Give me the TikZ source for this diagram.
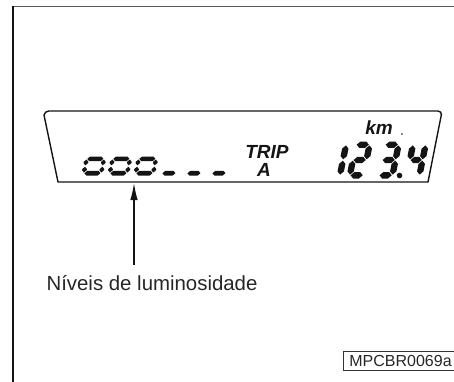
\documentclass[tikz,border=0pt]{standalone}
\usepackage{fontspec}
\setmainfont{Liberation Sans}
\usetikzlibrary{arrows.meta,positioning}
\definecolor{lcdink}{RGB}{20,20,20}
\definecolor{frameedge}{RGB}{90,90,90}
\tikzset{
  lcd/.style={fill=lcdink},
  lcdframe/.style={draw=lcdink, line width=1.4pt, line join=round},
  topline/.style={draw=frameedge, line width=1.6pt},
  sideline/.style={draw=lcdink, line width=1.8pt},
  arr/.style={-{Latex[length=17pt,width=7.5pt]}, draw=lcdink, line width=1.3pt},
  lcdtxt/.style={font=\fontsize{19}{20}\selectfont\bfseries\itshape, inner sep=0pt, text=lcdink},
  lbl/.style={font=\fontsize{20.4}{22}\selectfont, inner sep=0pt, text=black!85},
  codetag/.style={draw=black!80, line width=0.8pt, font=\fontsize{16}{17}\selectfont,
    anchor=north west, inner sep=0pt, text=black!85},
}
\makeatletter
% one hexagonal LCD segment, horizontal or vertical
\newcommand\hseg[3]{%
  \fill[lcd] ({#1},{#3}) -- ({#1+\segt/2},{#3+\segt/2}) -- ({#2-\segt/2},{#3+\segt/2})
    -- ({#2},{#3}) -- ({#2-\segt/2},{#3-\segt/2}) -- ({#1+\segt/2},{#3-\segt/2}) -- cycle;}
\newcommand\vseg[3]{%
  \fill[lcd] ({#1},{#2}) -- ({#1+\segt/2},{#2+\segt/2}) -- ({#1+\segt/2},{#3-\segt/2})
    -- ({#1},{#3}) -- ({#1-\segt/2},{#3-\segt/2}) -- ({#1-\segt/2},{#2+\segt/2}) -- cycle;}
\def\lcd@a{\hseg{\segt/2+\segg}{\dw-\segt/2-\segg}{\dh-\segt/2}}
\def\lcd@b{\vseg{\dw-\segt/2}{\dh/2+\segg}{\dh-\segt/2-\segg}}
\def\lcd@c{\vseg{\dw-\segt/2}{\segt/2+\segg}{\dh/2-\segg}}
\def\lcd@d{\hseg{\segt/2+\segg}{\dw-\segt/2-\segg}{\segt/2}}
\def\lcd@e{\vseg{\segt/2}{\segt/2+\segg}{\dh/2-\segg}}
\def\lcd@f{\vseg{\segt/2}{\dh/2+\segg}{\dh-\segt/2-\segg}}
\def\lcd@g{\hseg{\segt/2+\segg}{\dw-\segt/2-\segg}{\dh/2}}
% x y (bottom left), width, height, thickness, segments
\newcommand\lcddigit[6]{%
  \begin{scope}[shift={(#1,#2)}, xslant=0.2, x=1pt, y=1pt]
    \def\dw{#3}\def\dh{#4}\def\segt{#5}\def\segg{0.7}
    \foreach \s in {#6}{\csname lcd@\s\endcsname}
  \end{scope}}
\makeatother

\begin{document}
\begin{tikzpicture}[x=1pt, y=-1pt]
  \useasboundingbox (0,0) rectangle (454,381);

  % page frame
  \draw[topline] (13,6.5) -- (455,6.5);
  \draw[sideline] (13,5.7) -- (13,382);

  % display outline
  \draw[lcdframe] (58,182) -- (44,115) [rounded corners=4pt] -- (44.8,111) -- (442,111)
    [sharp corners] -- (441.5,114) -- (428,182) -- cycle;

  % brightness levels
  \foreach \px in {81,107,133}
    \lcddigit{\px}{175.5}{22}{19}{4.6}{a,b,c,d,e,f};
  \foreach \px in {159,184,209}
    \lcddigit{\px}{175.5}{19}{19}{4.6}{d};

  \node[lcdtxt] (trip) at (267,151.5) {TRIP};
  \node[lcdtxt] (tripa) at (264,170) {A};
  \node[lcdtxt] (km) at (379,128) {km};
  \fill[lcdink] (402,134) circle (0.9);

  % odometer 123.4
  \lcddigit{332}{178.5}{10.5}{37}{6.4}{b,c};
  \lcddigit{346}{178.5}{20}{37}{6.4}{a,b,g,e,d};
  \lcddigit{375}{178.5}{20}{37}{6.4}{a,b,g,c,d};
  \lcddigit{403}{178.5}{19}{37}{6.4}{f,g,b,c};
  \fill[lcdink] (399.5,175.5) circle (2.8);

  % callout
  \node[lbl] (lvl) at (152,283) {Níveis de luminosidade};
  \coordinate (tip) at (134,183);
  \coordinate (tail) at (134,265);
  \draw[arr] (tail) -- (tip);

  \node[codetag, minimum width=112pt, minimum height=19pt, text width=108pt, align=left]
    (code) at (343,351) {\hspace{4pt}MPCBR0069a};
\end{tikzpicture}
\end{document}
